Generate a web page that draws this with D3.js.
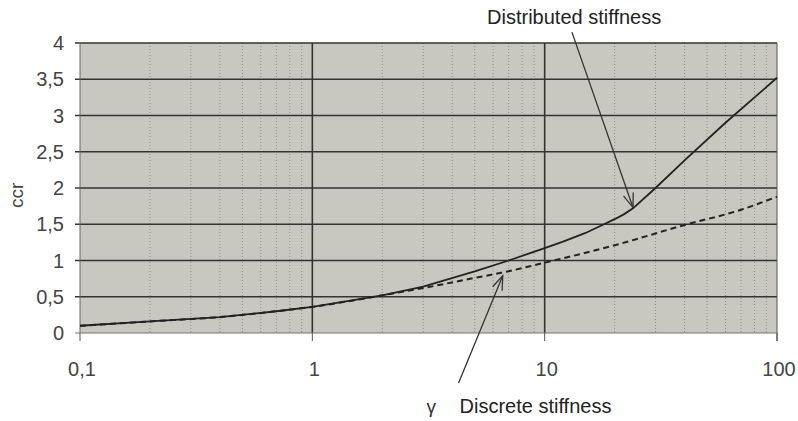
<!DOCTYPE html>
<html>
<head>
    <meta charset="utf-8">
    <script src="https://cdn.jsdelivr.net/npm/d3@7"></script>
    <style>
        body { margin: 0; background: #fff; }
        text { font-family: "Liberation Sans", Arial, sans-serif; }
    </style>
</head>

<body>

<div id="graph"></div>

<script>

// data
const gammaDistributed = [0.1, 0.2, 0.4, 0.7, 1, 2, 3, 5, 7, 10, 12, 15, 18, 20, 22, 24, 30, 40, 60, 100];
const ccrDistributed   = [0.1, 0.16, 0.22, 0.3, 0.36, 0.52, 0.64, 0.85, 1.0, 1.17, 1.26, 1.38, 1.5, 1.57, 1.64, 1.72, 2.0, 2.38, 2.9, 3.52];

const gammaDiscrete = [0.1, 0.2, 0.4, 0.7, 1, 2, 3, 5, 6.5, 10, 20, 40, 70, 100];
const ccrDiscrete   = [0.1, 0.16, 0.22, 0.3, 0.36, 0.52, 0.62, 0.76, 0.83, 0.97, 1.21, 1.49, 1.7, 1.88];

const yTicks = [0, 0.5, 1, 1.5, 2, 2.5, 3, 3.5, 4];
const xTicks = [0.1, 1, 10, 100];

// set the dimensions and margins of the graph
const margin = {top: 43, right: 21, bottom: 88, left: 80},
    width = 798 - margin.left - margin.right,
    height = 421 - margin.top - margin.bottom;

const svg = d3.select("#graph")
  .append("svg")
    .attr("width", 798)
    .attr("height", 421)
  .append("g")
    .attr("transform", `translate(${margin.left},${margin.top})`);

const x = d3.scaleLog().domain([0.1, 100]).range([0, width]);
const y = d3.scaleLinear().domain([0, 4]).range([height, 0]);

const fmt = (d) => String(d).replace(".", ",");

// plot background
svg.append("rect")
    .attr("x", 0).attr("y", 0)
    .attr("width", width).attr("height", height)
    .attr("fill", "#c8c8c0");

// minor vertical grid lines
let minor = [];
for (let dec = 0.1; dec < 100; dec *= 10) {
    for (let k = 2; k <= 9; k++) minor.push(dec * k);
}
svg.selectAll(".minor")
  .data(minor)
  .enter().append("line")
    .attr("x1", (d) => x(d)).attr("x2", (d) => x(d))
    .attr("y1", 0).attr("y2", height)
    .style("stroke", "#8e8e88")
    .style("stroke-width", 1)
    .style("stroke-dasharray", "1,2");

// major vertical grid lines
svg.selectAll(".majorx")
  .data([1, 10])
  .enter().append("line")
    .attr("x1", (d) => x(d)).attr("x2", (d) => x(d))
    .attr("y1", 0).attr("y2", height)
    .style("stroke", "#333")
    .style("stroke-width", 1.6);

// horizontal grid lines
svg.selectAll(".majory")
  .data(yTicks)
  .enter().append("line")
    .attr("x1", -5).attr("x2", width)
    .attr("y1", (d) => y(d)).attr("y2", (d) => y(d))
    .style("stroke", (d) => d === 0 ? "#777" : "#333")
    .style("stroke-width", (d) => d === 0 ? 1 : 1.5);

// left / right borders
svg.append("line")
    .attr("x1", 0).attr("x2", 0).attr("y1", 0).attr("y2", height)
    .style("stroke", "#666").style("stroke-width", 1);
svg.append("line")
    .attr("x1", width).attr("x2", width).attr("y1", 0).attr("y2", height + 8)
    .style("stroke", "#555").style("stroke-width", 1);

// x tick marks
svg.selectAll(".xtick")
  .data(xTicks)
  .enter().append("line")
    .attr("x1", (d) => x(d)).attr("x2", (d) => x(d))
    .attr("y1", height).attr("y2", height + 8)
    .style("stroke", "#555").style("stroke-width", 1);

// y tick labels
svg.selectAll(".ylab")
  .data(yTicks)
  .enter().append("text")
    .attr("x", -16)
    .attr("y", (d) => y(d))
    .attr("dy", "0.36em")
    .attr("text-anchor", "end")
    .attr("font-size", 20)
    .attr("fill", "#444")
    .text(fmt);

// x tick labels
svg.selectAll(".xlab")
  .data(xTicks)
  .enter().append("text")
    .attr("x", (d) => x(d) + 2)
    .attr("y", height + 43)
    .attr("text-anchor", "middle")
    .attr("font-size", 20)
    .attr("fill", "#444")
    .text(fmt);

// axis titles
svg.append("text")
    .attr("transform", `translate(${-57},${y(1.9)}) rotate(-90)`)
    .attr("text-anchor", "middle")
    .attr("font-size", 19)
    .attr("fill", "#444")
    .text("ccr");

svg.append("text")
    .attr("x", x(3.1))
    .attr("y", height + 80)
    .attr("font-family", "DejaVu Serif")
    .attr("font-size", 19)
    .attr("fill", "#333")
    .text("γ");

// curves
svg.append("path")
    .datum(d3.zip(gammaDiscrete, ccrDiscrete))
    .attr("fill", "none")
    .attr("stroke", "#222")
    .attr("stroke-width", 2)
    .attr("stroke-dasharray", "6,4")
    .attr("d", d3.line()
        .x((d) => x(d[0]))
        .y((d) => y(d[1]))
        .curve(d3.curveMonotoneX));

svg.append("path")
    .datum(d3.zip(gammaDistributed, ccrDistributed))
    .attr("fill", "none")
    .attr("stroke", "#222")
    .attr("stroke-width", 1.8)
    .attr("d", d3.line()
        .x((d) => x(d[0]))
        .y((d) => y(d[1])));

// annotations
function arrow(from, to) {
    const x1 = x(from[0]), y1 = y(from[1]), x2 = x(to[0]), y2 = y(to[1]);
    const a = Math.atan2(y2 - y1, x2 - x1);
    const len = 15, spread = 0.35;
    svg.append("line")
        .attr("x1", x1).attr("y1", y1).attr("x2", x2).attr("y2", y2)
        .style("stroke", "#333").style("stroke-width", 1.3);
    svg.append("path")
        .attr("d", `M${x2 - len * Math.cos(a - spread)},${y2 - len * Math.sin(a - spread)}L${x2},${y2}L${x2 - len * Math.cos(a + spread)},${y2 - len * Math.sin(a + spread)}`)
        .attr("fill", "none")
        .style("stroke", "#333").style("stroke-width", 1.3);
}

arrow([13.1, 4.15], [24, 1.73]);
arrow([4.26, -0.69], [6.6, 0.79]);

svg.append("text")
    .attr("x", x(5.65))
    .attr("y", -19)
    .attr("font-size", 20)
    .attr("fill", "#222")
    .text("Distributed stiffness");

svg.append("text")
    .attr("x", x(4.3))
    .attr("y", height + 80)
    .attr("font-size", 20)
    .attr("fill", "#222")
    .text("Discrete stiffness");

</script>

</body>
</html>
